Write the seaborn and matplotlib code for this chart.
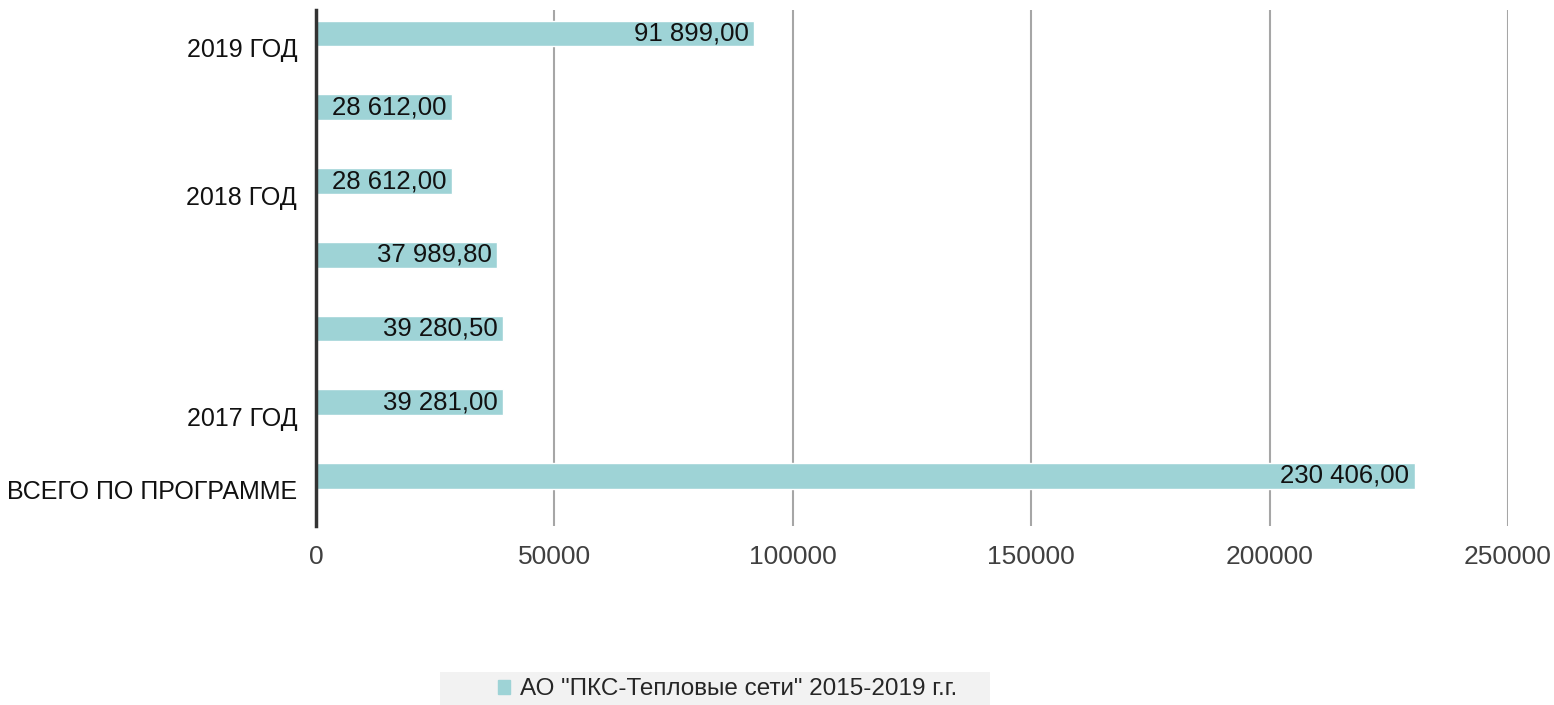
import matplotlib
matplotlib.use("Agg")
import matplotlib.pyplot as plt
import seaborn as sns
import pandas as pd

row_ids = ["r1", "r2", "r3", "r4", "r5", "r6", "r7"]
row_labels = ["2019 ГОД", "", "2018 ГОД", "", "", "2017 ГОД", "ВСЕГО ПО ПРОГРАММЕ"]
values = [91899.00, 28612.00, 28612.00, 37989.80, 39280.50, 39281.00, 230406.00]
value_labels = ["91 899,00", "28 612,00", "28 612,00", "37 989,80", "39 280,50", "39 281,00", "230 406,00"]
series_name = 'АО "ПКС-Тепловые сети" 2015-2019 г.г.'
x_ticks = [0, 50000, 100000, 150000, 200000, 250000]

sns.set_theme(style="white")
plt.rcParams['font.family'] = ['Liberation Sans', 'DejaVu Sans']

df = pd.DataFrame({"row": row_ids, "value": values, "series": series_name})

fig = plt.figure(figsize=(15.54, 7.05), dpi=100)
ax = fig.add_axes([0.2033, 0.2539, 0.7671, 0.7319])

bar_color = "#9ED3D6"
sns.barplot(data=df, y="row", x="value", hue="series", palette=[bar_color],
            saturation=1, orient="h", width=0.35, ax=ax, zorder=3, legend=True)

ax.set_xlim(0, 250000)
ax.set_ylim(6.68, -0.32)
ax.set_xticks(x_ticks)
ax.set_xticklabels([str(t) for t in x_ticks], fontsize=19, color="#404040")
label_shift = 0.19  # category labels sit slightly below the bars
ax.set_yticks([i + label_shift for i in range(len(row_ids))])
ax.set_yticklabels(row_labels, fontsize=18, color="#111111")
ax.tick_params(axis="both", length=0)
ax.tick_params(axis="x", pad=14)
ax.tick_params(axis="y", pad=13.5)
ax.set_xlabel("")
ax.set_ylabel("")

ax.grid(axis="x", color="#a6a6a6", linewidth=1.5, zorder=0)
ax.grid(axis="y", visible=False)
for s in ["top", "right", "bottom"]:
    ax.spines[s].set_visible(False)
ax.spines["left"].set_color("#333333")
ax.spines["left"].set_linewidth(2.5)
ax.spines["left"].set_zorder(4)

for i, (v, t) in enumerate(zip(values, value_labels)):
    ax.annotate(t, xy=(v, i), xytext=(-4, 0), textcoords="offset points",
                ha="right", va="center", fontsize=18.5, color="#111111", zorder=5)

ax.get_legend().remove()
bg = plt.Rectangle((440/1554, 0), 550/1554, 33/705, transform=fig.transFigure,
                   facecolor="#f2f2f2", edgecolor="none", zorder=0)
fig.patches.append(bg)
leg = fig.legend(handles=[plt.Rectangle((0, 0), 1, 1, color=bar_color)],
                 labels=[series_name], loc="center", bbox_to_anchor=(0.468, 0.022),
                 frameon=False, fontsize=17.5, handlelength=0.5, handleheight=0.5,
                 handletextpad=0.4, borderpad=0, borderaxespad=0)

fig.savefig("out.png", dpi=100, facecolor="white")
